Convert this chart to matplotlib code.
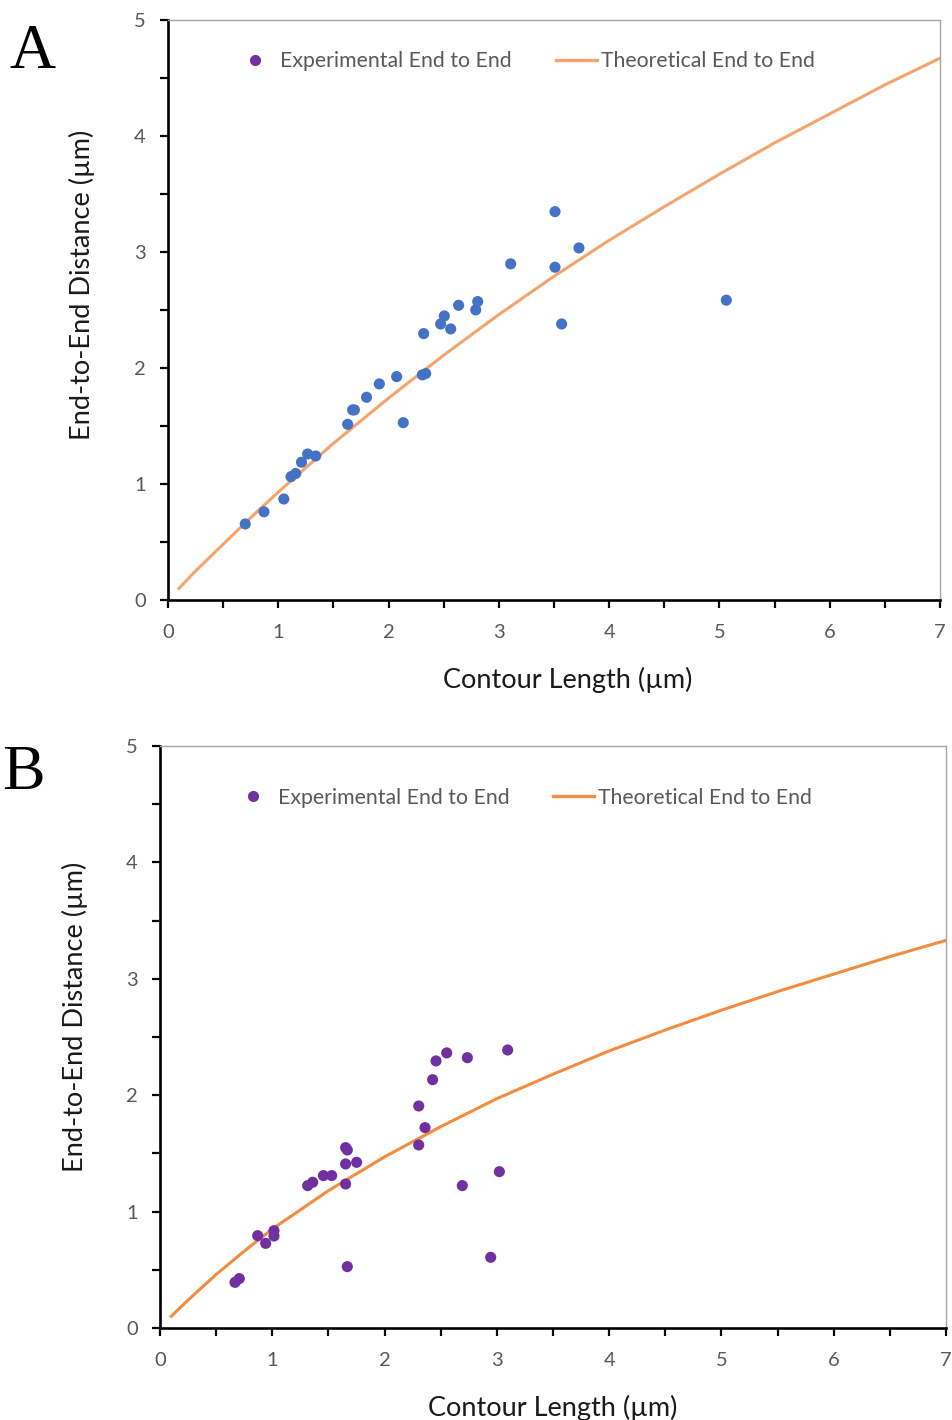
import matplotlib
matplotlib.use("Agg")
import matplotlib.pyplot as plt
from matplotlib.lines import Line2D
from matplotlib.ticker import MultipleLocator

plt.rcParams['font.family'] = ['Lato', 'DejaVu Sans']

# ---------------- Data: panel A ----------------
a_exp_x = [0.70, 0.87, 1.05, 1.115, 1.158, 1.21, 1.266, 1.339, 1.629, 1.674, 1.69,
           1.80, 1.916, 2.073, 2.133, 2.306, 2.336, 2.318, 2.472, 2.505, 2.563,
           2.635, 2.79, 2.808, 3.107, 3.509, 3.509, 3.569, 3.726, 5.062]
a_exp_y = [0.655, 0.76, 0.87, 1.063, 1.09, 1.187, 1.258, 1.241, 1.514, 1.638, 1.638,
           1.747, 1.862, 1.925, 1.528, 1.94, 1.951, 2.296, 2.379, 2.448, 2.336,
           2.540, 2.50, 2.572, 2.897, 3.347, 2.868, 2.379, 3.034, 2.584]
a_th_x = [0.1, 0.25, 0.5, 0.75, 1.0, 1.5, 2.0, 2.5, 3.0, 3.5, 4.0, 4.5, 5.0, 5.5, 6.0, 6.5, 7.0]
a_th_y = [0.10, 0.25, 0.48, 0.71, 0.93, 1.35, 1.74, 2.11, 2.46, 2.79, 3.10, 3.39, 3.67, 3.94, 4.19, 4.44, 4.67]

# ---------------- Data: panel B ----------------
b_exp_x = [0.668, 0.706, 0.870, 0.941, 1.015, 1.015, 1.315, 1.36, 1.455, 1.529,
           1.653, 1.668, 1.653, 1.751, 1.653, 1.668, 2.304, 2.36, 2.304, 2.428,
           2.458, 2.553, 2.737, 2.692, 3.022, 3.096, 2.945]
b_exp_y = [0.392, 0.424, 0.793, 0.727, 0.836, 0.790, 1.223, 1.252, 1.309, 1.309,
           1.549, 1.529, 1.409, 1.423, 1.237, 0.527, 1.907, 1.721, 1.572, 2.133,
           2.294, 2.363, 2.322, 1.223, 1.343, 2.388, 0.607]
b_th_x = [0.1, 0.25, 0.5, 0.75, 1.0, 1.5, 2.0, 2.5, 3.0, 3.5, 4.0, 4.5, 5.0, 5.5, 6.0, 6.5, 7.0]
b_th_y = [0.10, 0.24, 0.46, 0.66, 0.85, 1.18, 1.47, 1.73, 1.97, 2.18, 2.38, 2.56, 2.73, 2.89, 3.04, 3.19, 3.33]

x_ticks = [0, 1, 2, 3, 4, 5, 6, 7]
y_ticks = [0, 1, 2, 3, 4, 5]
x_label = "Contour Length (µm)"
y_label = "End-to-End Distance (µm)"
leg_exp = "Experimental End to End"
leg_th = "Theoretical End to End"

fig = plt.figure(figsize=(9.53, 14.2), dpi=100)
axA = fig.add_axes([0.1763, 0.5775, 0.8101, 0.4085])
axB = fig.add_axes([0.1679, 0.0648, 0.8248, 0.4099])

GRAY = '#595959'
PURPLE = '#7030A0'


def style(ax, ylab_coords, xlab_coords):
    ax.set_xlim(0, 7)
    ax.set_ylim(0, 5)
    ax.set_xticks(x_ticks)
    ax.set_yticks(y_ticks)
    ax.xaxis.set_minor_locator(MultipleLocator(0.5))
    ax.yaxis.set_minor_locator(MultipleLocator(0.5))
    for side in ['left', 'bottom']:
        ax.spines[side].set_color('black')
        ax.spines[side].set_linewidth(1.9)
    for side in ['top', 'right']:
        ax.spines[side].set_color('#a6a6a6')
        ax.spines[side].set_linewidth(1.0)
    ax.tick_params(which='both', direction='out', length=6, width=1.6, color='black',
                   top=False, right=False)
    ax.tick_params(which='major', labelsize=14.5, labelcolor=GRAY)
    ax.tick_params(axis='x', which='major', pad=11)
    ax.tick_params(axis='y', which='major', pad=10)
    ax.set_xlabel(x_label, fontsize=19.5, color='#1a1a1a')
    ax.set_ylabel(y_label, fontsize=19.5, color='#1a1a1a')
    ax.yaxis.set_label_coords(*ylab_coords)
    ax.xaxis.set_label_coords(*xlab_coords)


# Panel A
axA.plot(a_th_x, a_th_y, color='#F4A46C', lw=2.2, zorder=2)
axA.scatter(a_exp_x, a_exp_y, s=64, color='#4472C4', edgecolors='none', zorder=3)
style(axA, (-0.094, 0.543), (0.518, -0.115))

# Panel B
axB.plot(b_th_x, b_th_y, color='#F28C40', lw=2.2, zorder=2)
axB.scatter(b_exp_x, b_exp_y, s=64, color=PURPLE, edgecolors='none', zorder=3)
style(axB, (-0.091, 0.534), (0.5, -0.115))

for ax, col, anchor in [(axA, '#F4A46C', (0.462, 0.929)), (axB, '#F28C40', (0.461, 0.911))]:
    handles = [Line2D([], [], ls='none', marker='o', markersize=7, color=PURPLE),
               Line2D([], [], color=col, lw=2.4)]
    ax.legend(handles, [leg_exp, leg_th], loc='center', bbox_to_anchor=anchor, ncol=2,
              frameon=False, fontsize=15.3, labelcolor=GRAY, handlelength=1.93,
              handletextpad=0.19, columnspacing=2.07, borderpad=0, borderaxespad=0)

fig.text(0.010, 1 - 68 / 1420, 'A', family=['Liberation Serif'], fontsize=46,
         va='baseline', ha='left')
fig.text(0.002, 1 - 789 / 1420, 'B', family=['Liberation Serif'], fontsize=46,
         va='baseline', ha='left')

fig.savefig('out.png', dpi=100)
